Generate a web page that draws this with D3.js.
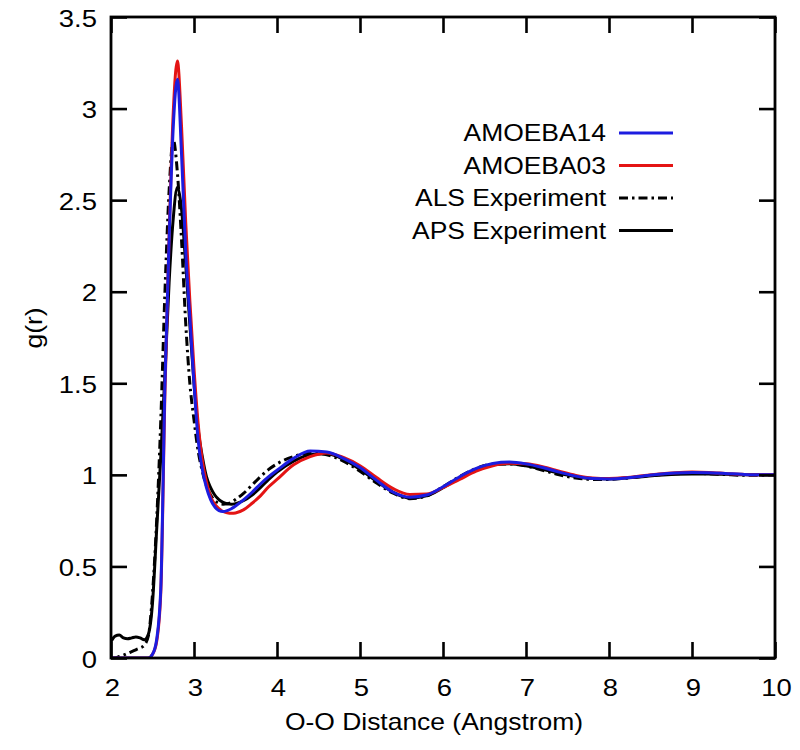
<!DOCTYPE html>
<html>
<head>
<meta charset="utf-8">
<script src="https://cdn.jsdelivr.net/npm/d3@7"></script>
<style>
  html, body { margin: 0; padding: 0; background: #fff; }
  svg { display: block; }
  text { font-family: "Liberation Sans", Arial, Helvetica, sans-serif; fill: #000; }
</style>
</head>
<body>
<svg id="chart" width="800" height="750"></svg>
<script>
// ---------------- data ----------------
const r = [2.00,2.05,2.10,2.15,2.20,2.25,2.30,2.35,2.40,2.45,
           2.50,2.55,2.60,2.65,2.70,2.75,2.80,2.85,2.90,2.95,
           3.00,3.05,3.10,3.15,3.20,3.25,3.30,3.35,3.40,3.45,3.50,
           3.6,3.7,3.8,3.9,4.0,
           4.2,4.4,4.6,4.8,5.0,5.2,5.4,5.6,5.8,6.0,6.2,6.4,6.6,6.8,
           7.0,7.2,7.4,7.6,7.8,8.0,8.2,8.4,8.6,8.8,9.0,9.2,9.4,9.6,9.8,10.0];

const amoeba14 = [0,0,0,0,0,0,0,0,0,0.0,
                  0.02,0.1,0.38,1.5,2.28,2.9,3.16,2.75,2.22,1.86,
                  1.5,1.19,1.03,0.93,0.865,0.825,0.805,0.80,0.805,0.815,0.83,
                  0.865,0.905,0.95,0.99,1.025,
                  1.09,1.13,1.125,1.09,1.04,0.97,0.905,0.878,0.89,0.935,0.99,1.035,1.062,1.07,
                  1.06,1.04,1.015,0.993,0.98,0.978,0.983,0.993,1.003,1.01,1.013,1.012,1.008,1.003,1.0,1.0];

const amoeba03 = [0,0,0,0,0,0,0,0,0,0.0,
                  0.02,0.09,0.36,1.45,2.3,2.98,3.26,2.9,2.38,1.95,
                  1.58,1.28,1.08,0.96,0.88,0.84,0.815,0.80,0.793,0.79,0.792,
                  0.81,0.845,0.885,0.935,0.975,
                  1.055,1.1,1.12,1.095,1.05,0.985,0.925,0.893,0.895,0.93,0.975,1.02,1.05,1.063,
                  1.06,1.045,1.02,0.997,0.983,0.98,0.985,0.995,1.005,1.012,1.015,1.013,1.008,1.003,1.0,1.0];

const alsExp = [0.0,0.0,0.008,0.015,0.025,0.035,0.045,0.055,0.07,0.12,
                0.35,0.75,1.3,2.0,2.55,2.83,2.65,2.28,1.83,1.5,
                1.3,1.13,1.02,0.94,0.89,0.86,0.845,0.84,0.842,0.85,0.865,
                0.9,0.945,0.99,1.03,1.06,
                1.1,1.12,1.11,1.075,1.02,0.955,0.9,0.87,0.885,0.935,0.99,1.035,1.058,1.06,
                1.048,1.025,1.0,0.983,0.975,0.975,0.982,0.992,1.0,1.005,1.008,1.006,1.002,0.998,0.998,1.0];

const apsExp = [0.09,0.12,0.125,0.11,0.105,0.11,0.115,0.11,0.1,0.13,
                0.3,0.7,1.1,1.55,2.05,2.4,2.57,2.45,2.15,1.82,
                1.5,1.25,1.1,0.99,0.93,0.89,0.865,0.85,0.842,0.84,0.843,
                0.86,0.89,0.93,0.975,1.015,
                1.075,1.11,1.115,1.085,1.03,0.965,0.905,0.873,0.885,0.93,0.985,1.03,1.055,1.06,
                1.05,1.03,1.008,0.99,0.98,0.978,0.983,0.99,0.998,1.003,1.005,1.005,1.003,1.0,1.0,1.0];

const xTicks = [2,3,4,5,6,7,8,9,10];
const yTicks = [0,0.5,1,1.5,2,2.5,3,3.5];
const yTickLabels = ["0","0.5","1","1.5","2","2.5","3","3.5"];

const seriesNames = ["AMOEBA14","AMOEBA03","ALS Experiment","APS Experiment"];
const seriesColors = ["#1c1ce0","#e41414","#000000","#000000"];
const seriesDash = [null,null,"9,4,2.5,4",null];
const seriesValues = [amoeba14, amoeba03, alsExp, apsExp];

const xLabel = "O-O Distance (Angstrom)";
const yLabel = "g(r)";

// ---------------- layout ----------------
const L = 111, R = 775, T = 17, B = 658;
const SX = 1.15;       // horizontal glyph stretch of the original text
const SXT = 1.12;
const svg = d3.select("#chart");

const x = d3.scaleLinear().domain([2,10]).range([L,R]);
const y = d3.scaleLinear().domain([0,3.5]).range([B,T]);

svg.append("defs").append("clipPath").attr("id","clip")
  .append("rect").attr("x",L).attr("y",T).attr("width",R-L).attr("height",B-T);

// curves, drawn in reverse legend order (AMOEBA14 on top)
const line = d3.line().curve(d3.curveMonotoneX);
const plot = svg.append("g").attr("clip-path","url(#clip)");
for (let i = seriesValues.length-1; i >= 0; i--) {
  const pts = r.map((rv,j)=>[x(rv), y(seriesValues[i][j])]);
  plot.append("path")
    .attr("d", line(pts))
    .attr("fill","none")
    .attr("stroke", seriesColors[i])
    .attr("stroke-width", 3)
    .attr("stroke-linejoin","round")
    .attr("stroke-dasharray", seriesDash[i]);
}

// axes (ticks inward, mirrored)
const tk = 16;
const gB = svg.append("g").attr("transform",`translate(0,${B})`)
  .call(d3.axisBottom(x).tickValues(xTicks).tickSizeInner(-tk).tickSizeOuter(0).tickFormat(d3.format("d")));
const gT = svg.append("g").attr("transform",`translate(0,${T})`)
  .call(d3.axisTop(x).tickValues(xTicks).tickSizeInner(-tk).tickSizeOuter(0).tickFormat(""));
const gL = svg.append("g").attr("transform",`translate(${L},0)`)
  .call(d3.axisLeft(y).tickValues(yTicks).tickSizeInner(-tk).tickSizeOuter(0).tickFormat((d,i)=>yTickLabels[i]));
const gR = svg.append("g").attr("transform",`translate(${R},0)`)
  .call(d3.axisRight(y).tickValues(yTicks).tickSizeInner(-tk).tickSizeOuter(0).tickFormat(""));

[gB,gT,gL,gR].forEach(g=>{
  g.select(".domain").remove();
  g.selectAll(".tick line").attr("stroke","#000").attr("stroke-width",2.6);
});

gB.selectAll(".tick text")
  .attr("x",0).attr("y",0).attr("dy",null)
  .attr("transform",`translate(1,38) scale(${SXT},1)`)
  .attr("text-anchor","middle")
  .style("font-size","24.5px");
gL.selectAll(".tick text")
  .attr("x",0).attr("dy",null)
  .attr("transform",`translate(-14,9) scale(${SXT},1)`)
  .attr("text-anchor","end")
  .style("font-size","24.5px");
svg.selectAll(".tick text").attr("fill","#000").attr("font-family",null).attr("font-size",null);

// frame
svg.append("rect").attr("x",L).attr("y",T).attr("width",R-L).attr("height",B-T)
  .attr("fill","none").attr("stroke","#000").attr("stroke-width",2.8);

// axis titles
svg.append("text")
  .attr("transform",`translate(434,730) scale(${SX},1)`)
  .attr("text-anchor","middle").style("font-size","23px").text(xLabel);
svg.append("text")
  .attr("transform",`translate(42,328) rotate(-90) scale(${SX},1)`)
  .attr("text-anchor","middle").style("font-size","23px").text(yLabel);

// legend
const legY = [133,165.5,198,230.5];
const leg = svg.append("g");
seriesNames.forEach((name,i)=>{
  leg.append("text")
    .attr("transform",`translate(606,${legY[i]+8}) scale(${SX},1)`)
    .attr("text-anchor","end").style("font-size","23px").text(name);
  leg.append("line")
    .attr("x1",619).attr("x2",673).attr("y1",legY[i]).attr("y2",legY[i])
    .attr("stroke",seriesColors[i]).attr("stroke-width",3)
    .attr("stroke-dasharray",seriesDash[i]);
});
</script>
</body>
</html>
